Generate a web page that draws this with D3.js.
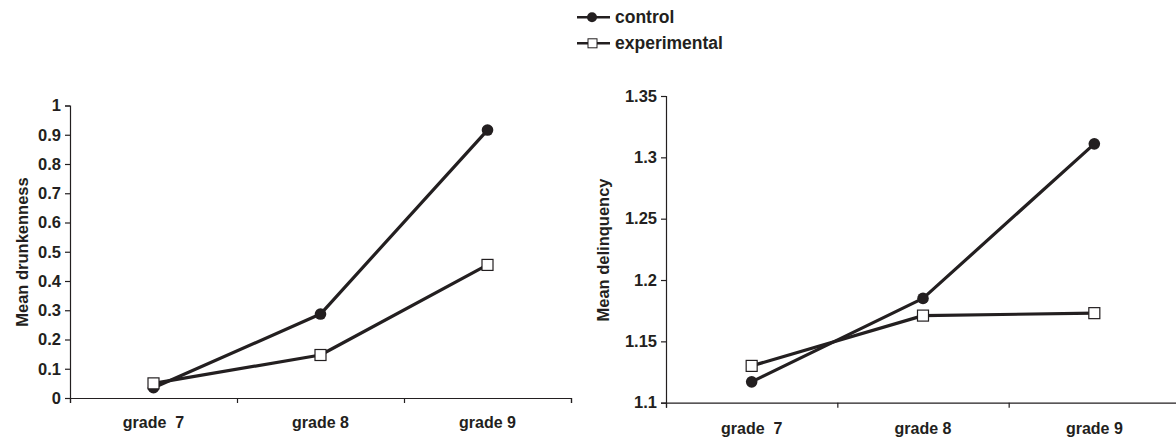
<!DOCTYPE html>
<html><head><meta charset="utf-8">
<script src="https://cdn.jsdelivr.net/npm/d3@7/dist/d3.min.js"></script>
<style>
body{margin:0;background:#fff;}
text{font-family:"Liberation Sans",Arial,sans-serif;font-weight:bold;fill:#231f20;}
</style></head>
<body><svg id="c" width="1176" height="438"></svg>
<script>
const categories = ["grade  7", "grade 8", "grade 9"];
const drunkControl = [0.035, 0.287, 0.916];
const drunkExperimental = [0.050, 0.147, 0.455];
const delinqControl = [1.117, 1.185, 1.311];
const delinqExperimental = [1.130, 1.171, 1.173];
const drunkTicks = [0, 0.1, 0.2, 0.3, 0.4, 0.5, 0.6, 0.7, 0.8, 0.9, 1];
const drunkTickLabels = ["0","0.1","0.2","0.3","0.4","0.5","0.6","0.7","0.8","0.9","1"];
const delinqTicks = [1.1, 1.15, 1.2, 1.25, 1.3, 1.35];
const delinqTickLabels = ["1.1","1.15","1.2","1.25","1.3","1.35"];
const seriesNames = ["control", "experimental"];

const ink = "#231f20";
const svg = d3.select("#c");

function panel(cfg){
  const g = svg.append("g");
  const x = d3.scaleBand().domain(categories).range([cfg.x0, cfg.x1]);
  const xb = d3.scaleLinear().domain([0, categories.length]).range([cfg.x0, cfg.x1]);
  const y = d3.scaleLinear().domain(cfg.domain).range([cfg.yb, cfg.yt]);

  const ya = g.append("g").attr("transform", `translate(${cfg.x0},0)`)
    .call(d3.axisLeft(y).tickValues(cfg.ticks).tickSize(5).tickPadding(4)
      .tickFormat((d,i)=>cfg.tickLabels[i]));
  ya.select(".domain").attr("stroke", ink).attr("stroke-width", 1.2);
  ya.selectAll(".tick line").attr("stroke", ink).attr("stroke-width", 1.2);
  ya.selectAll(".tick text").style("font-size","16.5px").attr("fill", ink);

  const xa = g.append("g").attr("transform", `translate(0,${cfg.yb})`)
    .call(d3.axisBottom(xb).tickValues(d3.range(categories.length+1)).tickSize(5).tickFormat(""));
  xa.select(".domain").attr("stroke", ink).attr("stroke-width", 1.2);
  xa.selectAll(".tick line").attr("stroke", ink).attr("stroke-width", 1.2);
  const xl = g.append("g").attr("transform", `translate(0,${cfg.yb})`)
    .call(d3.axisBottom(x).tickSize(0).tickPadding(cfg.labelPad));
  xl.select(".domain").remove();
  xl.selectAll(".tick text").style("font-size","16px").attr("fill", ink).style("white-space","pre");

  g.append("text").attr("transform", `translate(${cfg.titleX},${cfg.titleY}) rotate(-90)`)
    .attr("text-anchor","middle").attr("dominant-baseline","central")
    .style("font-size","16.5px").text(cfg.title);

  const cx = (d,i)=>x(categories[i]) + x.bandwidth()/2;
  const line = d3.line().x(cx).y(d=>y(d));
  [cfg.control, cfg.experimental].forEach(s=>{
    g.append("path").datum(s).attr("d", line).attr("fill","none")
      .attr("stroke", ink).attr("stroke-width", 3.2).attr("stroke-linejoin","round");
  });
  g.selectAll(".pc").data(cfg.control).join("circle")
    .attr("cx",cx).attr("cy",d=>y(d)).attr("r",5.8).attr("fill",ink);
  g.selectAll(".ps").data(cfg.experimental).join("rect")
    .attr("x",(d,i)=>cx(d,i) - 5.5).attr("y",d=>y(d)-5.5)
    .attr("width",11).attr("height",11).attr("fill","#fff").attr("stroke",ink).attr("stroke-width",1.2);
}

panel({x0:70, x1:571, yb:398, yt:105.5, domain:[0,1], ticks:drunkTicks, tickLabels:drunkTickLabels,
  control:drunkControl, experimental:drunkExperimental, title:"Mean drunkenness", titleX:22, titleY:252, labelPad:19});
panel({x0:666, x1:1180, yb:402.7, yt:96, domain:[1.1,1.35], ticks:delinqTicks, tickLabels:delinqTickLabels,
  control:delinqControl, experimental:delinqExperimental, title:"Mean delinquency", titleX:603, titleY:250, labelPad:20});

const lg = svg.append("g");
const legY = [17.3, 43.3];
seriesNames.forEach((name,i)=>{
  const yy = legY[i];
  lg.append("line").attr("x1",577).attr("x2",610).attr("y1",yy).attr("y2",yy)
    .attr("stroke",ink).attr("stroke-width",2.5);
  if(i===0) lg.append("circle").attr("cx",592).attr("cy",yy).attr("r",5).attr("fill",ink);
  else lg.append("rect").attr("x",588).attr("y",yy-4.5).attr("width",9).attr("height",9)
    .attr("fill","#fff").attr("stroke",ink).attr("stroke-width",1);
  lg.append("text").attr("x",615).attr("y",yy).attr("dominant-baseline","central")
    .style("font-size","17.5px").text(name);
});
</script></body></html>
